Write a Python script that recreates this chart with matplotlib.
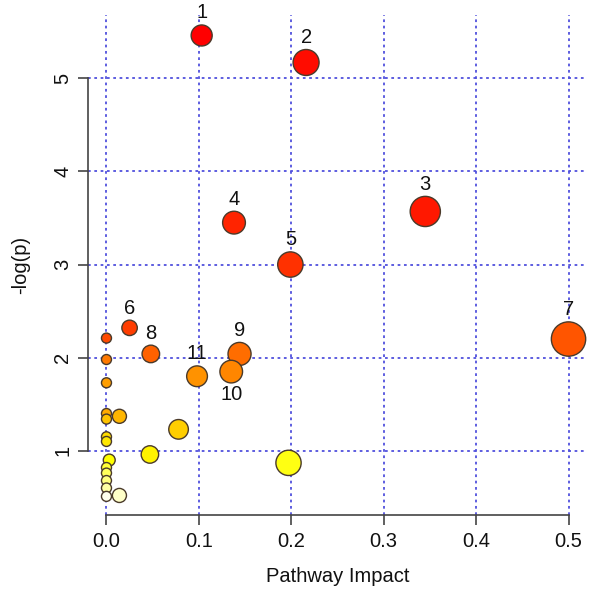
import colorsys
import numpy as np

import matplotlib
matplotlib.use("Agg")
import matplotlib.pyplot as plt

plt.rcParams["font.family"] = ["Liberation Sans", "DejaVu Sans"]

# pathway impact (x) and -log(p) (y)
impact = [0.103, 0.216, 0.345, 0.138, 0.199, 0.025, 0.500, 0.048, 0.144, 0.135, 0.098,
          0.000, 0.000, 0.000, 0.000, 0.000, 0.000, 0.000, 0.003, 0.000, 0.000, 0.000,
          0.000, 0.000, 0.014, 0.014, 0.078, 0.047, 0.197]
neglogp = [5.46, 5.17, 3.57, 3.45, 3.00, 2.32, 2.20, 2.04, 2.04, 1.85, 1.80,
           2.21, 1.98, 1.73, 1.40, 1.34, 1.15, 1.10, 0.90, 0.82, 0.76, 0.68,
           0.60, 0.51, 1.37, 0.52, 1.23, 0.96, 0.87]
labels = ["1", "2", "3", "4", "5", "6", "7", "8", "9", "10", "11"] + [""] * 18
below = {"10"}

x_ticks = [0.0, 0.1, 0.2, 0.3, 0.4, 0.5]
y_ticks = [1, 2, 3, 4, 5]


def heat_colors(n):
    # same scheme as R's heat.colors()
    j = n // 4
    i = n - j
    cols = []
    for k in range(i):
        h = (1 / 6) * k / (i - 1) if i > 1 else 0
        cols.append(colorsys.hsv_to_rgb(h, 1, 1))
    for s in np.linspace(1 - 1 / (2 * j), 1 / (2 * j), j):
        cols.append(colorsys.hsv_to_rgb(1 / 6, s, 1))
    return cols


x = np.array(impact)
y = np.array(neglogp)
n = len(x)

# colour by rank of -log(p), size by impact
order = np.argsort(-y, kind="stable")
pal = heat_colors(n)
colors = [None] * n
for rank, idx in enumerate(order):
    colors[idx] = pal[rank]
radius_px = 5.0 + 17.2 * np.sqrt(x)
sizes = (radius_px * 0.72 * 2) ** 2

fig = plt.figure(figsize=(6.0, 5.92), dpi=100)
ax = fig.add_axes([88 / 600, 77 / 592, 499 / 600, 500 / 592])

ax.set_xlim(-0.02, 0.52)
ax.set_ylim(0.31, 5.68)

grid_col = "#5050dd"
for v in x_ticks:
    ax.axvline(v, color=grid_col, lw=1.3, ls=(0, (1.5, 2)), zorder=0)
for v in y_ticks:
    ax.axhline(v, color=grid_col, lw=1.3, ls=(0, (1.5, 2)), zorder=0)

ax.scatter(x, y, s=sizes, c=colors, edgecolors="#4a3a2a", linewidths=1.0, zorder=3)

for xi, yi, lab, r in zip(x, y, labels, radius_px):
    if not lab:
        continue
    off = (r + 12) * 0.72
    if lab in below:
        off = -off
    ax.annotate(lab, (xi, yi), xytext=(0, off), textcoords="offset points",
                ha="center", va="center", fontsize=14.5, color="#111111", zorder=4)

for side in ["top", "right"]:
    ax.spines[side].set_visible(False)
ax.spines["left"].set_bounds(1, 5)
ax.spines["bottom"].set_bounds(0, 0.5)
for side in ["left", "bottom"]:
    ax.spines[side].set_color("#444444")
    ax.spines[side].set_linewidth(1.2)

ax.set_xticks(x_ticks)
ax.set_xticklabels([f"{v:.1f}" for v in x_ticks])
ax.set_yticks(y_ticks)
ax.set_yticklabels([str(v) for v in y_ticks])
ax.tick_params(axis="both", direction="out", length=7.2, width=1.2, color="#444444",
               labelsize=14.5, labelcolor="#111111")
ax.tick_params(axis="x", pad=5)
ax.tick_params(axis="y", pad=4, labelrotation=90)
for lab in ax.get_yticklabels():
    lab.set_va("center")

ax.set_xlabel("Pathway Impact", fontsize=14.5, color="#111111")
ax.set_ylabel("-log(p)", fontsize=14.5, color="#111111")
ax.xaxis.set_label_coords(0.5, -0.124)
ax.yaxis.set_label_coords(-0.136, 0.5)
ax.xaxis.label.set_va("center")
ax.yaxis.label.set_va("center")

fig.savefig("out.png", dpi=100)
